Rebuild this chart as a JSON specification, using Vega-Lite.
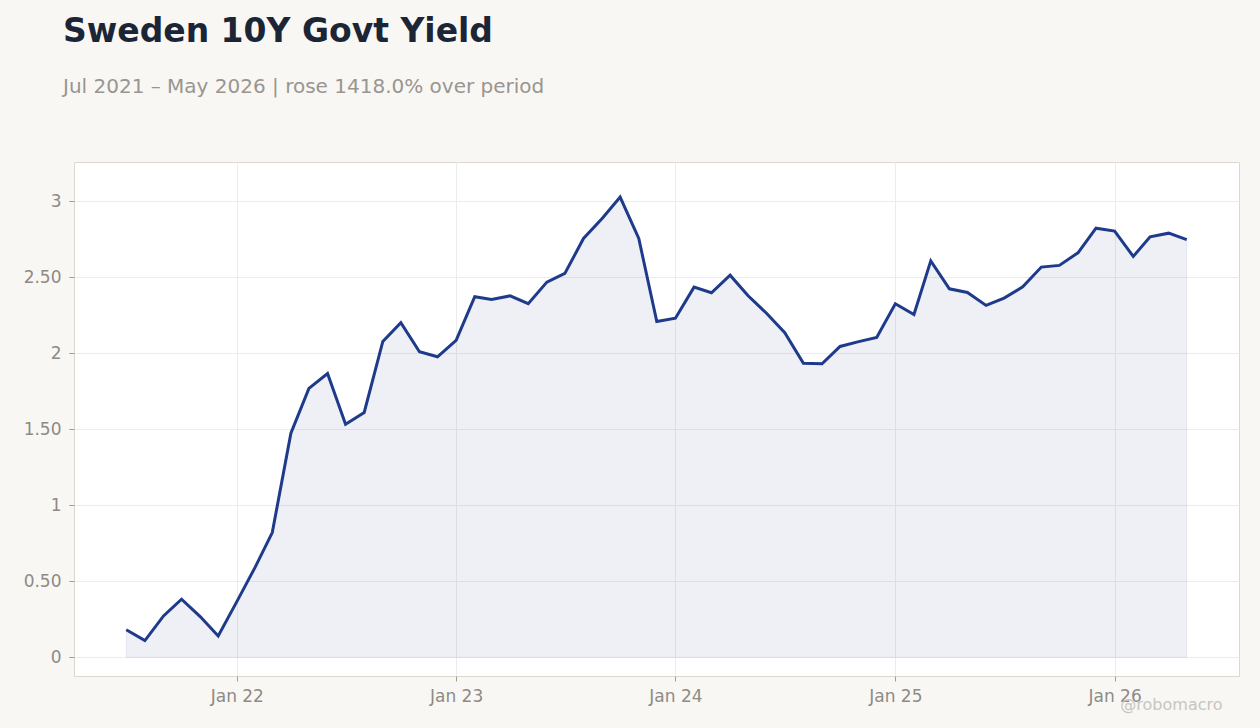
{
  "$schema": "https://vega.github.io/schema/vega-lite/v6.json",
  "autosize": "none",
  "width": 1165,
  "height": 514,
  "padding": {"left": 74, "top": 162, "right": 21, "bottom": 52},
  "background": "#f8f7f4",
  "title": {
    "text": "Sweden 10Y Govt Yield",
    "subtitle": "Jul 2021 – May 2026 | rose 1418.0% over period",
    "anchor": "start",
    "frame": "group",
    "dx": -11,
    "offset": 65,
    "font": "DejaVu Sans",
    "fontSize": 33,
    "fontWeight": "bold",
    "color": "#1c2536",
    "subtitleFont": "DejaVu Sans",
    "subtitleFontSize": 20,
    "subtitleColor": "#999590",
    "subtitlePadding": 28
  },
  "config": {
    "view": {"stroke": "#ddd8cf", "fill": "white"},
    "axis": {
      "labelFont": "DejaVu Sans",
      "labelFontSize": 17,
      "labelColor": "#8e8a85",
      "domain": false,
      "tickColor": "#a09c97",
      "tickSize": 5,
      "gridColor": "#ececec"
    }
  },
  "data": {
    "values": [
      {"date": "2021-07-01", "yield": 0.181},
      {"date": "2021-08-01", "yield": 0.110},
      {"date": "2021-09-01", "yield": 0.272},
      {"date": "2021-10-01", "yield": 0.382},
      {"date": "2021-11-01", "yield": 0.268},
      {"date": "2021-12-01", "yield": 0.140},
      {"date": "2022-01-01", "yield": 0.366},
      {"date": "2022-02-01", "yield": 0.596},
      {"date": "2022-03-01", "yield": 0.820},
      {"date": "2022-04-01", "yield": 1.474},
      {"date": "2022-05-01", "yield": 1.768},
      {"date": "2022-06-01", "yield": 1.866},
      {"date": "2022-07-01", "yield": 1.533},
      {"date": "2022-08-01", "yield": 1.610},
      {"date": "2022-09-01", "yield": 2.077},
      {"date": "2022-10-01", "yield": 2.200},
      {"date": "2022-11-01", "yield": 2.009},
      {"date": "2022-12-01", "yield": 1.976},
      {"date": "2023-01-01", "yield": 2.084},
      {"date": "2023-02-01", "yield": 2.371},
      {"date": "2023-03-01", "yield": 2.353},
      {"date": "2023-04-01", "yield": 2.377},
      {"date": "2023-05-01", "yield": 2.325},
      {"date": "2023-06-01", "yield": 2.467},
      {"date": "2023-07-01", "yield": 2.524},
      {"date": "2023-08-01", "yield": 2.754},
      {"date": "2023-09-01", "yield": 2.886},
      {"date": "2023-10-01", "yield": 3.026},
      {"date": "2023-11-01", "yield": 2.754},
      {"date": "2023-12-01", "yield": 2.208},
      {"date": "2024-01-01", "yield": 2.230},
      {"date": "2024-02-01", "yield": 2.434},
      {"date": "2024-03-01", "yield": 2.397},
      {"date": "2024-04-01", "yield": 2.513},
      {"date": "2024-05-01", "yield": 2.377},
      {"date": "2024-06-01", "yield": 2.261},
      {"date": "2024-07-01", "yield": 2.134},
      {"date": "2024-08-01", "yield": 1.934},
      {"date": "2024-09-01", "yield": 1.930},
      {"date": "2024-10-01", "yield": 2.044},
      {"date": "2024-11-01", "yield": 2.076},
      {"date": "2024-12-01", "yield": 2.103},
      {"date": "2025-01-01", "yield": 2.325},
      {"date": "2025-02-01", "yield": 2.254},
      {"date": "2025-03-01", "yield": 2.607},
      {"date": "2025-04-01", "yield": 2.423},
      {"date": "2025-05-01", "yield": 2.399},
      {"date": "2025-06-01", "yield": 2.314},
      {"date": "2025-07-01", "yield": 2.362},
      {"date": "2025-08-01", "yield": 2.436},
      {"date": "2025-09-01", "yield": 2.566},
      {"date": "2025-10-01", "yield": 2.577},
      {"date": "2025-11-01", "yield": 2.660},
      {"date": "2025-12-01", "yield": 2.822},
      {"date": "2026-01-01", "yield": 2.803},
      {"date": "2026-02-01", "yield": 2.636},
      {"date": "2026-03-01", "yield": 2.765},
      {"date": "2026-04-01", "yield": 2.789},
      {"date": "2026-05-01", "yield": 2.747}
    ]
  },
  "encoding": {
    "x": {
      "field": "date",
      "type": "temporal",
      "scale": {
        "type": "utc",
        "domain": [
          {"year": 2021, "month": 4, "date": 5, "utc": true},
          {"year": 2026, "month": 7, "date": 27, "utc": true}
        ]
      },
      "axis": {
        "values": [
          {"year": 2022, "month": 1, "date": 1, "utc": true},
          {"year": 2023, "month": 1, "date": 1, "utc": true},
          {"year": 2024, "month": 1, "date": 1, "utc": true},
          {"year": 2025, "month": 1, "date": 1, "utc": true},
          {"year": 2026, "month": 1, "date": 1, "utc": true}
        ],
        "format": "%b %y",
        "labelPadding": 7,
        "labelFlush": false,
        "title": "@robomacro",
        "titleFont": "DejaVu Sans",
        "titleFontSize": 16,
        "titleFontWeight": "normal",
        "titleColor": "#c9c5c0",
        "titleAlign": "right",
        "titleAnchor": "end",
        "titleBaseline": "alphabetic",
        "titleX": 1148,
        "titleY": 33
      }
    },
    "y": {
      "field": "yield",
      "type": "quantitative",
      "scale": {"domain": [-0.123, 3.257], "nice": false, "zero": false},
      "axis": {
        "title": null,
        "values": [0, 0.5, 1, 1.5, 2, 2.5, 3],
        "labelExpr": "datum.value == floor(datum.value) ? format(datum.value, 'd') : format(datum.value, '.2f')",
        "labelPadding": 8
      }
    }
  },
  "layer": [
    {
      "mark": {"type": "area", "color": "#1e3a8a", "fillOpacity": 0.075, "stroke": "#1e3a8a", "strokeOpacity": 0.08, "strokeWidth": 1},
      "encoding": {"y2": {"datum": 0}}
    },
    {
      "mark": {"type": "line", "color": "#1e3a8a", "strokeWidth": 3}
    }
  ]
}
